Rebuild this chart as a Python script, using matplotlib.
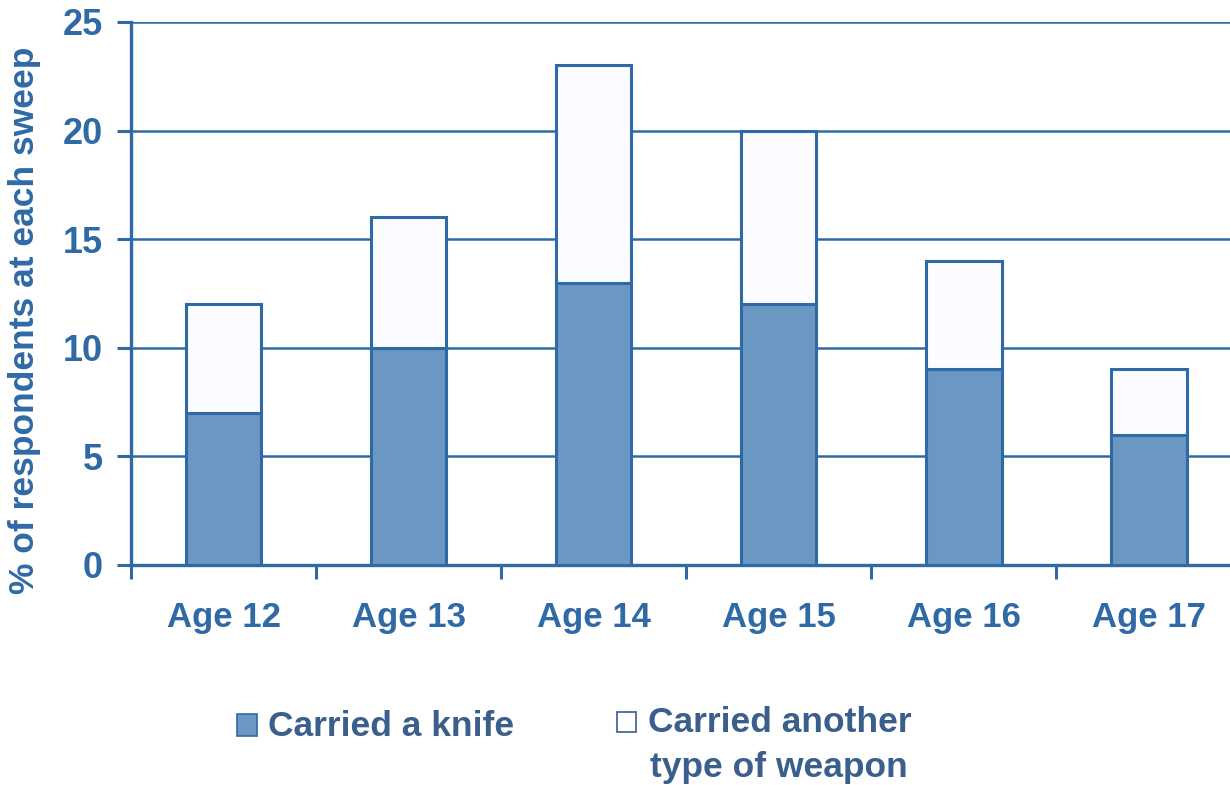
import matplotlib.pyplot as plt
from matplotlib.patches import Rectangle
import numpy as np

ages = ['Age 12', 'Age 13', 'Age 14', 'Age 15', 'Age 16', 'Age 17']
knife = [7, 10, 13, 12, 9, 6]
other = [5, 6, 10, 8, 5, 3]

blue_edge = '#2f6aa6'
blue_fill = '#6a98c2'
text_col = '#2f6aa6'
legend_col = '#3a5f8c'

plt.rcParams['font.family'] = ['Liberation Sans', 'DejaVu Sans']
plt.rcParams['font.weight'] = 'bold'

fig = plt.figure(figsize=(12.3, 7.85), dpi=100)
ax = fig.add_axes([0.1065, 0.2803, 0.8935, 0.6917])

x = np.arange(len(ages))
ax.bar(x, knife, width=0.41, color=blue_fill, edgecolor=blue_edge, linewidth=2.2, zorder=3)
ax.bar(x, other, bottom=knife, width=0.41, color='#fbfcff', edgecolor=blue_edge, linewidth=2.2, zorder=3)

ax.set_xlim(-0.5, 5.44)
ax.set_ylim(0, 25)
ax.set_yticks([0, 5, 10, 15, 20, 25])
ax.yaxis.grid(True, color=blue_edge, linewidth=1.8, zorder=0)
ax.set_axisbelow(True)

# ticks between categories, labels at centres
ax.set_xticks(np.arange(-0.5, 5.5, 1.0))
ax.set_xticklabels([])
ax.set_xticks(x, minor=True)
ax.set_xticklabels(ages, minor=True, fontsize=25, color=text_col, fontweight='bold')
ax.tick_params(axis='x', which='minor', length=0, pad=26)
ax.tick_params(axis='x', which='major', length=10, width=2.2, color=blue_edge)
ax.tick_params(axis='y', length=10, width=2.2, color=blue_edge, labelsize=26,
               labelcolor=text_col, pad=10)
for lab in ax.get_yticklabels():
    lab.set_fontweight('bold')

for s in ['top', 'right']:
    ax.spines[s].set_visible(False)
for s in ['left', 'bottom']:
    ax.spines[s].set_color(blue_edge)
    ax.spines[s].set_linewidth(2.4)

ax.set_ylabel('% of respondents at each sweep', fontsize=25.5, color=text_col,
              fontweight='bold')
ax.yaxis.set_label_coords(-0.0815, 0.45)

# legend drawn by hand to follow the layout of the original
fig.patches.append(Rectangle((237 / 1230, 1 - 736 / 785), 20 / 1230, 22 / 785,
                             transform=fig.transFigure, facecolor=blue_fill,
                             edgecolor=blue_edge, linewidth=1.2))
fig.text(268 / 1230, 1 - 727 / 785, 'Carried a knife', fontsize=25.5,
         color=legend_col, fontweight='bold', va='center')
fig.patches.append(Rectangle((617 / 1230, 1 - 732 / 785), 19 / 1230, 20 / 785,
                             transform=fig.transFigure, facecolor='white',
                             edgecolor=legend_col, linewidth=1.2))
fig.text(648 / 1230, 1 - 722 / 785, 'Carried another', fontsize=25.5,
         color=legend_col, fontweight='bold', va='center')
fig.text(650 / 1230, 1 - 768 / 785, 'type of weapon', fontsize=25.5,
         color=legend_col, fontweight='bold', va='center')

fig.savefig('out.png', dpi=100)
